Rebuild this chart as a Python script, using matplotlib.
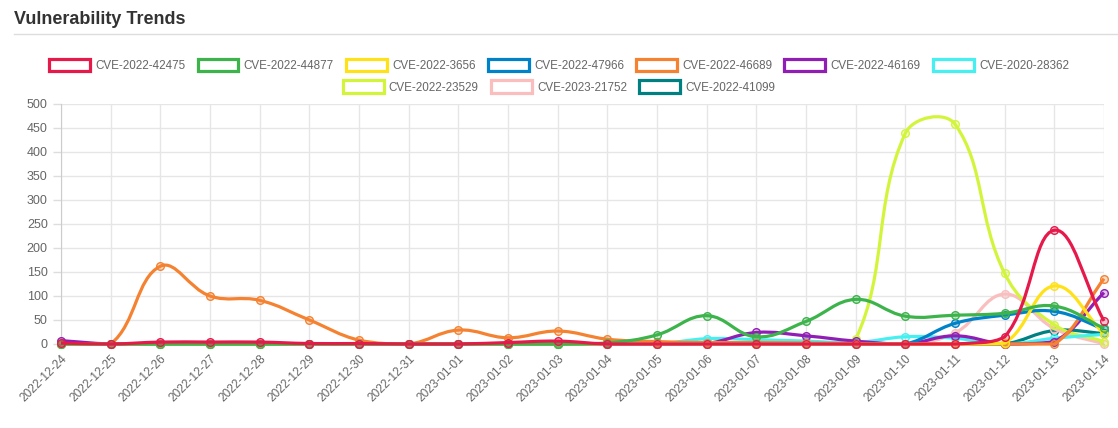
import numpy as np
import matplotlib
matplotlib.use("Agg")
import matplotlib.pyplot as plt
from matplotlib.path import Path
from matplotlib.patches import PathPatch, Patch
from matplotlib.colors import to_rgba

plt.rcParams['font.family'] = ['Liberation Sans', 'DejaVu Sans']

dates = ['2022-12-24', '2022-12-25', '2022-12-26', '2022-12-27', '2022-12-28',
         '2022-12-29', '2022-12-30', '2022-12-31', '2023-01-01', '2023-01-02',
         '2023-01-03', '2023-01-04', '2023-01-05', '2023-01-06', '2023-01-07',
         '2023-01-08', '2023-01-09', '2023-01-10', '2023-01-11', '2023-01-12',
         '2023-01-13', '2023-01-14']

cve_names = ['CVE-2022-42475', 'CVE-2022-44877', 'CVE-2022-3656', 'CVE-2022-47966',
             'CVE-2022-46689', 'CVE-2022-46169', 'CVE-2020-28362', 'CVE-2022-23529',
             'CVE-2023-21752', 'CVE-2022-41099']

colors = ['#e6194b', '#3cb44b', '#ffe119', '#0082c8', '#f58231',
          '#911eb4', '#46f0f0', '#d2f53c', '#fabebe', '#008080']

cve_42475 = [2, 0, 4, 4, 4, 1, 1, 0, 0, 3, 6, 0, 0, 0, 0, 0, 0, 0, 0, 15, 237, 48]
cve_44877 = [0, 0, 0, 0, 0, 0, 0, 0, 0, 0, 0, 2, 19, 59, 15, 47, 93, 58, 60, 64, 79, 33]
cve_3656 = [0, 0, 0, 0, 0, 0, 0, 0, 0, 0, 0, 0, 0, 0, 0, 0, 0, 0, 0, 2, 121, 21]
cve_47966 = [0, 0, 0, 0, 0, 0, 0, 0, 0, 0, 0, 0, 0, 0, 0, 0, 0, 0, 43, 60, 68, 31]
cve_46689 = [0, 0, 162, 100, 91, 50, 8, 0, 29, 13, 27, 10, 5, 3, 3, 2, 1, 0, 0, 0, 0, 136]
cve_46169 = [7, 0, 0, 0, 0, 0, 0, 0, 0, 0, 0, 0, 0, 1, 24, 17, 6, 0, 17, 0, 5, 107]
cve_28362 = [0, 0, 0, 0, 0, 0, 0, 0, 0, 0, 0, 0, 0, 11, 9, 6, 3, 15, 12, 0, 12, 20]
cve_23529 = [0, 0, 0, 0, 0, 0, 0, 0, 0, 0, 0, 0, 0, 0, 0, 0, 10, 439, 458, 147, 40, 5]
cve_21752 = [0, 0, 0, 0, 0, 0, 0, 0, 0, 0, 0, 0, 0, 0, 0, 0, 0, 0, 23, 104, 32, 0]
cve_41099 = [0, 0, 0, 0, 0, 0, 0, 0, 0, 0, 0, 0, 0, 0, 0, 0, 0, 0, 0, 0, 28, 22]

series = [cve_42475, cve_44877, cve_3656, cve_47966, cve_46689,
          cve_46169, cve_28362, cve_23529, cve_21752, cve_41099]

W, H = 1118, 428
fig = plt.figure(figsize=(W / 100, H / 100), dpi=100)
ax = fig.add_axes([61 / W, 1 - 344 / H, (1104 - 61) / W, (344 - 104) / H])

ymax = 500
ax.set_xlim(0, len(dates) - 1)
ax.set_ylim(0, ymax)

# pixel scale, used for the chart.js style spline (tension 0.4)
sx = (1104 - 61) / (len(dates) - 1)
sy = (344 - 104) / ymax


def spline_path(xs, ys, tension=0.4):
    px = np.array(xs, float) * sx
    py = np.array(ys, float) * sy
    n = len(px)
    cp_prev = []
    cp_next = []
    for i in range(n):
        p0 = (px[max(i - 1, 0)], py[max(i - 1, 0)])
        p1 = (px[i], py[i])
        p2 = (px[min(i + 1, n - 1)], py[min(i + 1, n - 1)])
        d01 = np.hypot(p1[0] - p0[0], p1[1] - p0[1])
        d12 = np.hypot(p2[0] - p1[0], p2[1] - p1[1])
        tot = d01 + d12
        s01 = d01 / tot if tot else 0
        s12 = d12 / tot if tot else 0
        fa = tension * s01
        fb = tension * s12
        cp_prev.append((p1[0] - fa * (p2[0] - p0[0]), p1[1] - fa * (p2[1] - p0[1])))
        cp_next.append((p1[0] + fb * (p2[0] - p0[0]), p1[1] + fb * (p2[1] - p0[1])))
    verts = [(px[0], py[0])]
    codes = [Path.MOVETO]
    for i in range(1, n):
        verts += [cp_next[i - 1], cp_prev[i], (px[i], py[i])]
        codes += [Path.CURVE4] * 3
    verts = np.array(verts)
    verts[:, 0] /= sx
    verts[:, 1] = np.clip(verts[:, 1], 0, ymax * sy) / sy
    return Path(verts, codes)


x = np.arange(len(dates))
for i, (vals, c) in enumerate(zip(series, colors)):
    z = 20 - i
    patch = PathPatch(spline_path(x, vals), facecolor='none', edgecolor=c,
                      linewidth=2.3, zorder=z, clip_on=False)
    ax.add_patch(patch)
    ax.plot(x, vals, linestyle='none', marker='o', markersize=5.5,
            markerfacecolor=to_rgba(c, 0.25), markeredgecolor=c,
            markeredgewidth=1, zorder=z, clip_on=False)

ax.set_xticks(x)
ax.set_xticklabels(dates, rotation=45, ha='right', rotation_mode='anchor')
ax.set_yticks(np.arange(0, 501, 50))
ax.tick_params(axis='both', colors='#dddddd', labelcolor='#666666',
               labelsize=9, length=6, width=1)
ax.tick_params(axis='x', length=3, pad=3, labelsize=8.6)
ax.grid(True, color='#e6e6e6', linewidth=1)
ax.set_axisbelow(True)
for side in ['top', 'right']:
    ax.spines[side].set_visible(False)
ax.spines['left'].set_color('#cccccc')
ax.spines['bottom'].set_color('#cccccc')

# legend in two centred rows, like chart.js
handles = [Patch(facecolor='white', edgecolor=c, linewidth=2.3) for c in colors]
leg_kw = dict(frameon=False, fontsize=8.4, handlelength=3.5, handleheight=1.25,
              handletextpad=0.45, columnspacing=1.05, labelcolor='#666666')
fig.legend(handles[:7], cve_names[:7], loc='center', ncol=7,
           bbox_to_anchor=(0.5, 1 - 65.5 / H), **leg_kw)
fig.legend(handles[7:], cve_names[7:], loc='center', ncol=3,
           bbox_to_anchor=(0.5, 1 - 87 / H), **leg_kw)

fig.text(14 / W, 1 - 19 / H, 'Vulnerability Trends', fontsize=13, fontweight='bold',
         color='#333333', va='center', ha='left')
fig.add_artist(plt.Line2D([14 / W, 1], [1 - 34 / H, 1 - 34 / H],
                          color='#dddddd', linewidth=1))

fig.savefig('out.png', dpi=100)
